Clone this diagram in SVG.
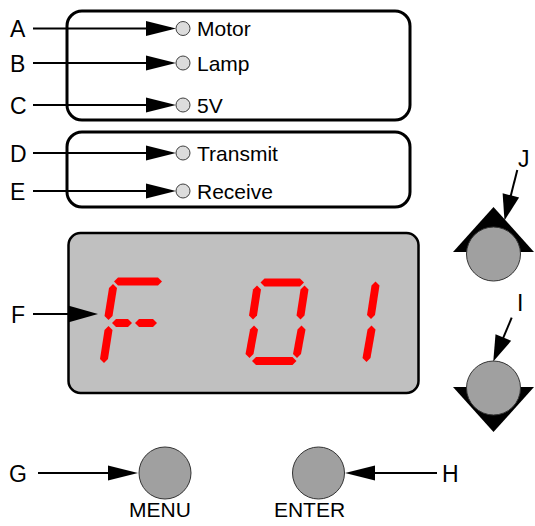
<svg xmlns="http://www.w3.org/2000/svg" width="535" height="526" viewBox="0 0 535 526">
<defs>
<style>
text{font-family:"Liberation Sans",Arial,sans-serif;fill:#000}
.lbl{font-size:23px}
.itm{font-size:21px}
.cap{font-size:21px;text-anchor:middle}
.panel{fill:#fff;stroke:#000;stroke-width:3}
.lcd{fill:#c0c0c0;stroke:#000;stroke-width:2.5}
.led{fill:#dcdcdc;stroke:#404040;stroke-width:1}
.btn{fill:#a0a0a0;stroke:#333;stroke-width:1}
.tri{fill:#000}
.seg{fill:#ff0000}
.con{stroke:#000;stroke-width:2;fill:none}
</style>
<marker id="ah" markerUnits="userSpaceOnUse" markerWidth="30" markerHeight="15" refX="25" refY="7.5" orient="auto" overflow="visible">
<path d="M0,0 L30,7.5 L0,15 Z" fill="#000"/>
</marker>
<marker id="ahF" markerUnits="userSpaceOnUse" markerWidth="30" markerHeight="17" refX="25" refY="8.5" orient="auto" overflow="visible">
<path d="M0,0 L30,8.5 L0,17 Z" fill="#000"/>
</marker>
<marker id="ahB" markerUnits="userSpaceOnUse" markerWidth="26" markerHeight="17" refX="21" refY="8.5" orient="auto" overflow="visible">
<path d="M0,0 L26,8.5 L0,17 Z" fill="#000"/>
</marker>
</defs>
<rect width="535" height="526" fill="#fff"/>

<g id="panel-outputs">
<rect class="panel" x="67" y="11" width="343" height="109" rx="15"/>
</g>
<g id="panel-comms">
<rect class="panel" x="67" y="132" width="343" height="75" rx="15"/>
</g>

<g id="led-motor"><circle class="led" cx="183" cy="28.5" r="7"/><text class="itm" x="197" y="36">Motor</text></g>
<g id="led-lamp"><circle class="led" cx="183" cy="63" r="7"/><text class="itm" x="197" y="70.5">Lamp</text></g>
<g id="led-5v"><circle class="led" cx="183" cy="105" r="7"/><text class="itm" x="197" y="112.5">5V</text></g>
<g id="led-transmit"><circle class="led" cx="183" cy="153" r="7"/><text class="itm" x="197" y="160.5">Transmit</text></g>
<g id="led-receive"><circle class="led" cx="183" cy="191" r="7"/><text class="itm" x="197" y="198.5">Receive</text></g>

<g id="display">
<rect class="lcd" x="68.5" y="233" width="350" height="160" rx="12"/>
<g id="digit-F">
<polygon class="seg" points="114,281.5 118,277.5 158,277.5 162,281.5 158,285.5 118,285.5"/>
<polygon class="seg" points="113,284 117,288 112.5,316 108.5,320 104.5,316 109,288"/>
<polygon class="seg" points="108.5,326 112.5,330 108,359 104,363 100,359 104.5,330"/>
<polygon class="seg" points="112,323 116,319 128,319 132,323 128,327 116,327"/>
<polygon class="seg" points="135,323 139,319 153,319 157,323 153,327 139,327"/>
</g>
<g id="digit-0">
<polygon class="seg" points="260.5,282.5 264.5,278.5 300,278.5 304,282.5 300,286.5 264.5,286.5"/>
<polygon class="seg" points="257,285.5 261,289.5 257,315.5 253,319.5 249,315.5 253,289.5"/>
<polygon class="seg" points="304.5,285.5 308.5,289.5 304.5,315.5 300.5,319.5 296.5,315.5 300.5,289.5"/>
<polygon class="seg" points="254,325.5 258,329.5 253.5,354 249.5,358 245.5,354 250,329.5"/>
<polygon class="seg" points="301.5,325.5 305.5,329.5 301,354 297,358 293,354 297.5,329.5"/>
<polygon class="seg" points="252,361 256,357 292.5,357 296.5,361 292.5,365 256,365"/>
</g>
<g id="digit-1">
<polygon class="seg" points="375.5,281.5 379.5,285.5 375,315 371,319 367,315 371.5,285.5"/>
<polygon class="seg" points="371.5,325.5 375.5,329.5 370.5,358 366.5,362 362.5,358 367.5,329.5"/>
</g>
</g>

<g id="btn-up">
<polygon class="tri" points="493.5,207 453,252 534,252"/>
<circle class="btn" cx="493.5" cy="254" r="27"/>
</g>
<g id="btn-down">
<polygon class="tri" points="453,387 534,387 493.5,432"/>
<circle class="btn" cx="493.5" cy="388" r="27"/>
</g>
<g id="btn-menu">
<circle class="btn" cx="165" cy="473" r="26"/>
<text class="cap" x="160" y="517">MENU</text>
</g>
<g id="btn-enter">
<circle class="btn" cx="318.5" cy="473" r="26"/>
<text class="cap" x="309.5" y="517">ENTER</text>
</g>

<g id="labels">
<text class="lbl" x="10" y="37">A</text>
<text class="lbl" x="10" y="71.5">B</text>
<text class="lbl" x="10" y="113.5">C</text>
<text class="lbl" x="10" y="161.5">D</text>
<text class="lbl" x="10" y="199.5">E</text>
<text class="lbl" x="11" y="322.5">F</text>
<text class="lbl" x="9" y="481.5">G</text>
<text class="lbl" x="442" y="481.5">H</text>
<text class="lbl" x="518" y="167">J</text>
<text class="lbl" x="517" y="311">I</text>
</g>

<g id="connectors">
<line class="con" x1="33" y1="28.5" x2="171" y2="28.5" marker-end="url(#ah)"/>
<line class="con" x1="33" y1="63" x2="171" y2="63" marker-end="url(#ah)"/>
<line class="con" x1="33" y1="105" x2="171" y2="105" marker-end="url(#ah)"/>
<line class="con" x1="33" y1="153" x2="171" y2="153" marker-end="url(#ah)"/>
<line class="con" x1="33" y1="191" x2="171" y2="191" marker-end="url(#ah)"/>
<line class="con" x1="33" y1="314" x2="93" y2="314" stroke-width="1.5" marker-end="url(#ahF)"/>
<line class="con" x1="38" y1="473" x2="133" y2="473" marker-end="url(#ah)"/>
<line class="con" x1="437" y1="473" x2="350" y2="473" marker-end="url(#ah)"/>
<line class="con" x1="517.3" y1="170" x2="505.7" y2="215.7" marker-end="url(#ahB)"/>
<line class="con" x1="511.7" y1="317.7" x2="495.2" y2="356.9" marker-end="url(#ahB)"/>
</g>
</svg>
